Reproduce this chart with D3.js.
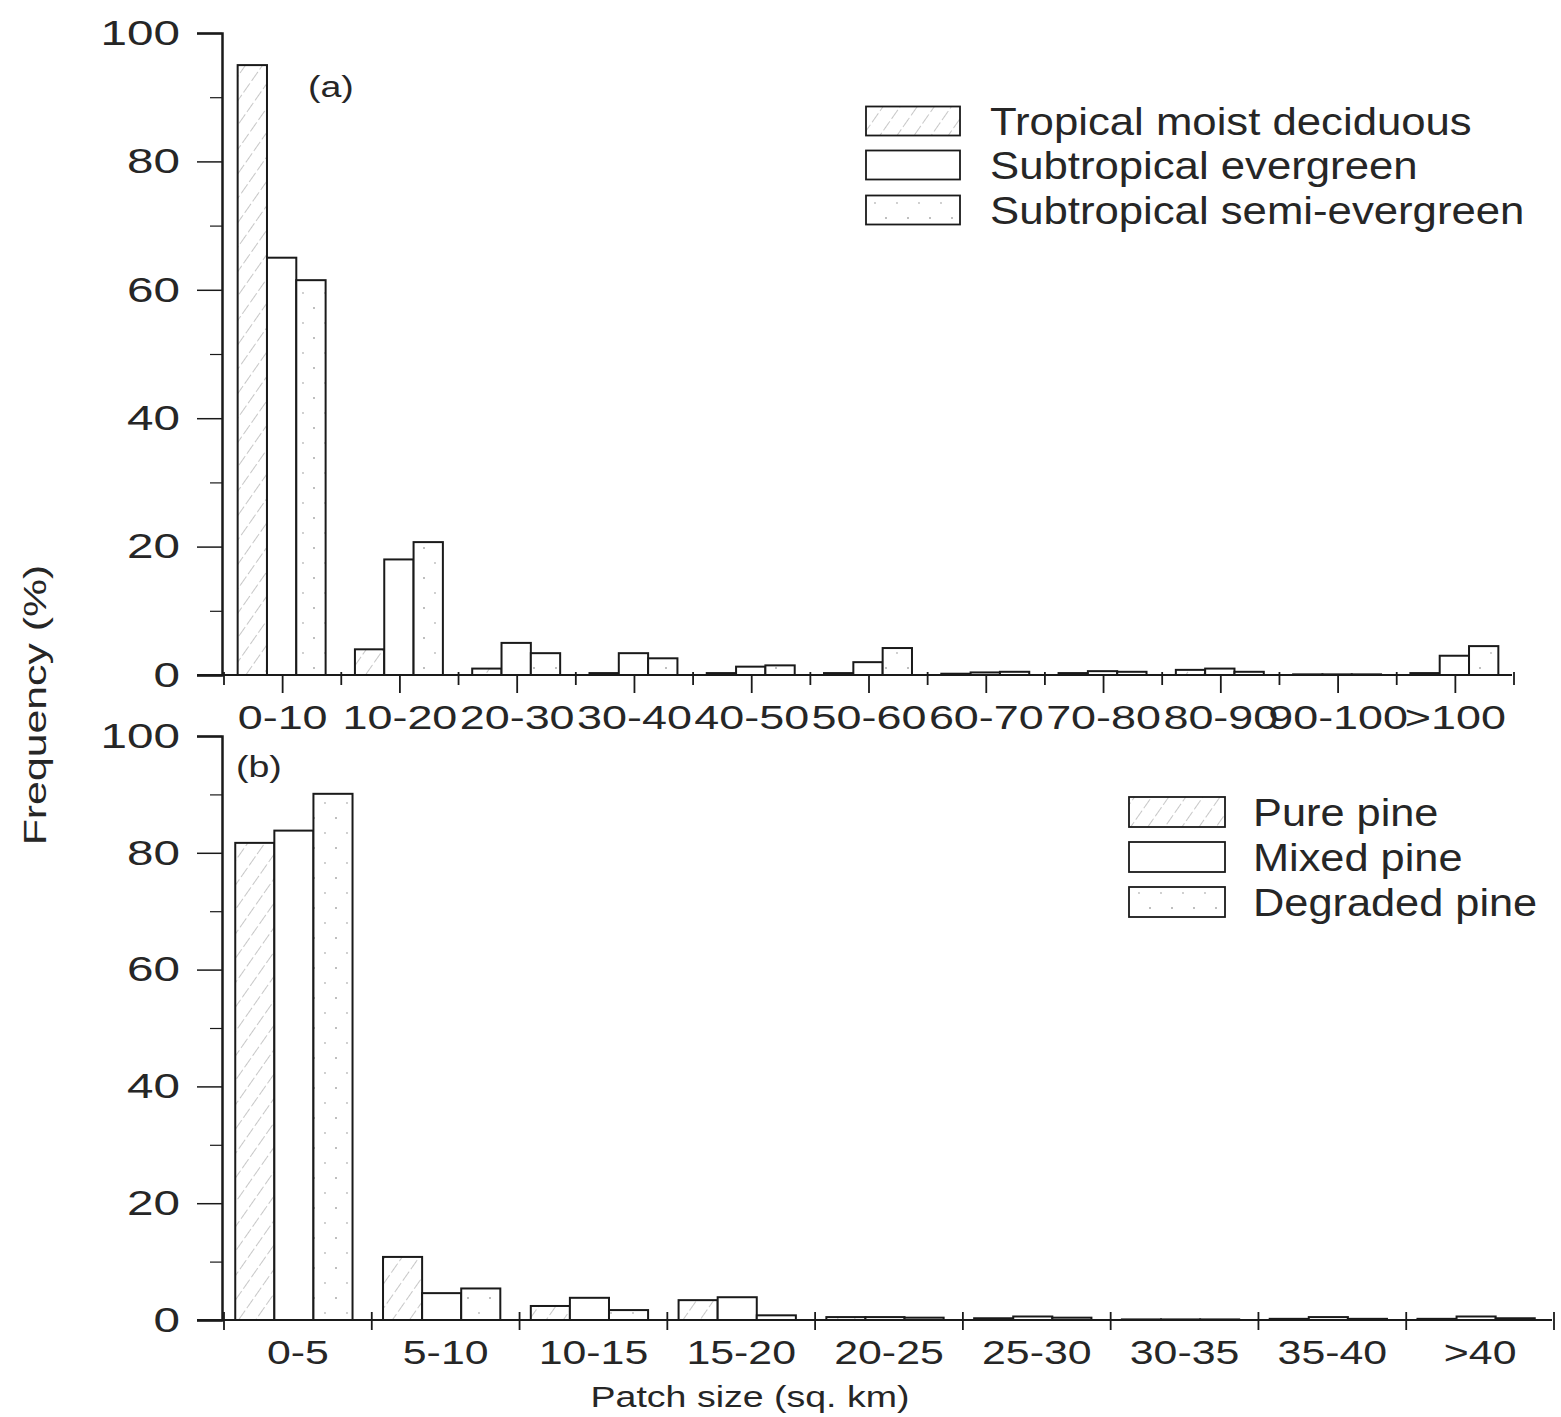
<!DOCTYPE html>
<html>
<head>
<meta charset="utf-8">
<script src="https://cdn.jsdelivr.net/npm/d3@7"></script>
<style>
  html, body { margin: 0; padding: 0; background: #fff; }
  svg { display: block; font-family: "Liberation Sans", Arial, sans-serif; }
</style>
</head>
<body>
<svg id="chart" width="1561" height="1417"></svg>
<script>
// ---- Data ----
const catsA = ["0-10","10-20","20-30","30-40","40-50","50-60","60-70","70-80","80-90","90-100",">100"];
const seriesA = ["Tropical moist deciduous","Subtropical evergreen","Subtropical semi-evergreen"];
const tropicalMoist = [95, 4, 1, 0.3, 0.3, 0.3, 0.2, 0.3, 0.8, 0.1, 0.3];
const subEvergreen  = [65, 18, 5, 3.4, 1.3, 2, 0.4, 0.6, 1, 0.1, 3];
const subSemiEver   = [61.5, 20.7, 3.4, 2.6, 1.5, 4.2, 0.5, 0.5, 0.5, 0.1, 4.5];

const catsB = ["0-5","5-10","10-15","15-20","20-25","25-30","30-35","35-40",">40"];
const seriesB = ["Pure pine","Mixed pine","Degraded pine"];
const purePine     = [81.7, 10.8, 2.4, 3.4, 0.5, 0.3, 0.1, 0.2, 0.2];
const mixedPine    = [83.8, 4.6, 3.8, 3.9, 0.5, 0.6, 0.1, 0.5, 0.6];
const degradedPine = [90.1, 5.4, 1.7, 0.8, 0.4, 0.4, 0.1, 0.2, 0.3];

const yMajor = [0, 20, 40, 60, 80, 100];
const yMinor = [10, 30, 50, 70, 90];

// ---- Setup ----
const svg = d3.select("#chart");
const ink = "#1a1a1a";
const txt = "#262626";
const defs = svg.append("defs");
const hatch = defs.append("pattern").attr("id","hatch").attr("patternUnits","userSpaceOnUse")
  .attr("width",14).attr("height",14).attr("patternTransform","rotate(35)");
hatch.append("rect").attr("width",14).attr("height",14).attr("fill","#fff");
hatch.append("line").attr("x1",0).attr("y1",0).attr("x2",0).attr("y2",14)
  .attr("stroke","#9a9a9a").attr("stroke-width",1.1).attr("stroke-dasharray","6,3");
const dots = defs.append("pattern").attr("id","dots").attr("patternUnits","userSpaceOnUse")
  .attr("width",22).attr("height",30);
dots.append("rect").attr("width",22).attr("height",30).attr("fill","#fff");
dots.append("circle").attr("cx",6).attr("cy",8).attr("r",1).attr("fill","#aaa");
dots.append("circle").attr("cx",17).attr("cy",23).attr("r",0.9).attr("fill","#bbb");
const fills = ["url(#hatch)", "#fff", "url(#dots)"];

// stretch glyphs horizontally (reference font is a wide face)
function stretch(sel, factor) {
  sel.each(function() {
    const w = this.getComputedTextLength();
    d3.select(this).attr("textLength", w * factor).attr("lengthAdjust", "spacingAndGlyphs");
  });
}

function panel(opts) {
  const {cats, series, values, xRange, yRange, axisLeftX, axisX0, axisX1, centerTicks, innerPad, innerShift, xStretch, xFont} = opts;
  const g = svg.append("g");
  const x = d3.scaleBand().domain(cats).range(xRange).padding(0);
  const xi = d3.scaleBand().domain(d3.range(series.length))
    .range([innerShift, x.bandwidth() + innerShift]).paddingInner(0).paddingOuter(innerPad);
  const y = d3.scaleLinear().domain([0, 100]).range(yRange);
  const y0 = y(0);

  // bars
  series.forEach((s, si) => {
    g.append("g").selectAll("rect").data(values[si]).join("rect")
      .attr("x", (d, i) => x(cats[i]) + xi(si))
      .attr("y", d => y(d))
      .attr("width", xi.bandwidth())
      .attr("height", d => y0 - y(d))
      .attr("fill", fills[si])
      .attr("stroke", ink).attr("stroke-width", 2);
  });

  // y axis
  const ya = g.append("g").attr("transform", `translate(${axisLeftX},0)`)
    .call(d3.axisLeft(y).tickValues(yMajor).tickSize(25).tickPadding(17).tickFormat(d3.format("d")));
  ya.select(".domain").attr("stroke", ink).attr("stroke-width", 2.5);
  ya.selectAll(".tick line").attr("stroke", ink).attr("stroke-width", 1.5);
  ya.selectAll("text").attr("font-size", 35).attr("fill", txt).attr("font-family", "Liberation Sans, Arial, sans-serif");
  stretch(ya.selectAll("text"), 1.36);
  const ym = g.append("g").attr("transform", `translate(${axisLeftX},0)`)
    .call(d3.axisLeft(y).tickValues(yMinor).tickSize(12).tickFormat(""));
  ym.select(".domain").remove();
  ym.selectAll(".tick line").attr("stroke", ink).attr("stroke-width", 1.2);

  // x axis line
  g.append("line").attr("x1", axisX0).attr("x2", axisX1).attr("y1", y0).attr("y2", y0)
    .attr("stroke", ink).attr("stroke-width", 1.8);
  // boundary ticks
  const bounds = cats.map(c => x(c)).concat([x(cats[cats.length-1]) + x.bandwidth()]);
  g.append("g").selectAll("line").data(bounds).join("line")
    .attr("x1", d => d).attr("x2", d => d)
    .attr("y1", y0 - (centerTicks ? 3 : 8)).attr("y2", y0 + 10)
    .attr("stroke", ink).attr("stroke-width", 1.8);
  // center ticks + labels
  const xa = g.append("g").attr("transform", `translate(0,${y0})`)
    .call(d3.axisBottom(x).tickSize(centerTicks ? 18 : 0).tickPadding(centerTicks ? 12 : 20));
  xa.select(".domain").remove();
  xa.selectAll(".tick line").attr("stroke", ink).attr("stroke-width", 1.8);
  xa.selectAll("text").attr("font-size", xFont).attr("fill", txt).attr("font-family", "Liberation Sans, Arial, sans-serif");
  stretch(xa.selectAll("text"), xStretch);
  return {g, x, y};
}

panel({cats: catsA, series: seriesA, values: [tropicalMoist, subEvergreen, subSemiEver],
  xRange: [224, 1514], yRange: [675, 33], axisLeftX: 222, axisX0: 197, axisX1: 1512,
  centerTicks: true, innerPad: 0.5, innerShift: -1, xStretch: 1.32, xFont: 34});
panel({cats: catsB, series: seriesB, values: [purePine, mixedPine, degradedPine],
  xRange: [224, 1554], yRange: [1320, 736], axisLeftX: 222, axisX0: 197, axisX1: 1552,
  centerTicks: false, innerPad: 0.39, innerShift: -4, xStretch: 1.26, xFont: 34});

// panel labels
const la = svg.append("text").attr("x", 308).attr("y", 97).text("(a)")
  .attr("font-size", 30).attr("fill", txt);
stretch(la, 1.25);
const lb = svg.append("text").attr("x", 236).attr("y", 777).text("(b)")
  .attr("font-size", 30).attr("fill", txt);
stretch(lb, 1.25);

// legends
function legend(names, x0, ys, boxW, boxH, textX, fsize, factor) {
  const lg = svg.append("g");
  names.forEach((n, i) => {
    lg.append("rect").attr("x", x0).attr("y", ys[i] - boxH / 2).attr("width", boxW).attr("height", boxH)
      .attr("fill", fills[i]).attr("stroke", ink).attr("stroke-width", 1.8);
    const t = lg.append("text").attr("x", textX).attr("y", ys[i]).attr("dy", "0.36em").text(n)
      .attr("font-size", fsize).attr("fill", txt);
    stretch(t, factor);
  });
}
legend(seriesA, 866, [121, 165, 210], 94, 29, 990, 38, 1.15);
legend(seriesB, 1129, [812, 857, 902], 96, 30, 1253, 38, 1.14);

// axis titles
const yt = svg.append("text").attr("transform", "translate(46,705) rotate(-90)")
  .attr("text-anchor", "middle").text("Frequency (%)")
  .attr("font-size", 31).attr("fill", txt);
stretch(yt, 1.38);
const xt = svg.append("text").attr("x", 750).attr("y", 1407).attr("text-anchor", "middle")
  .text("Patch size (sq. km)")
  .attr("font-size", 30).attr("fill", txt);
stretch(xt, 1.25);
</script>
</body>
</html>
